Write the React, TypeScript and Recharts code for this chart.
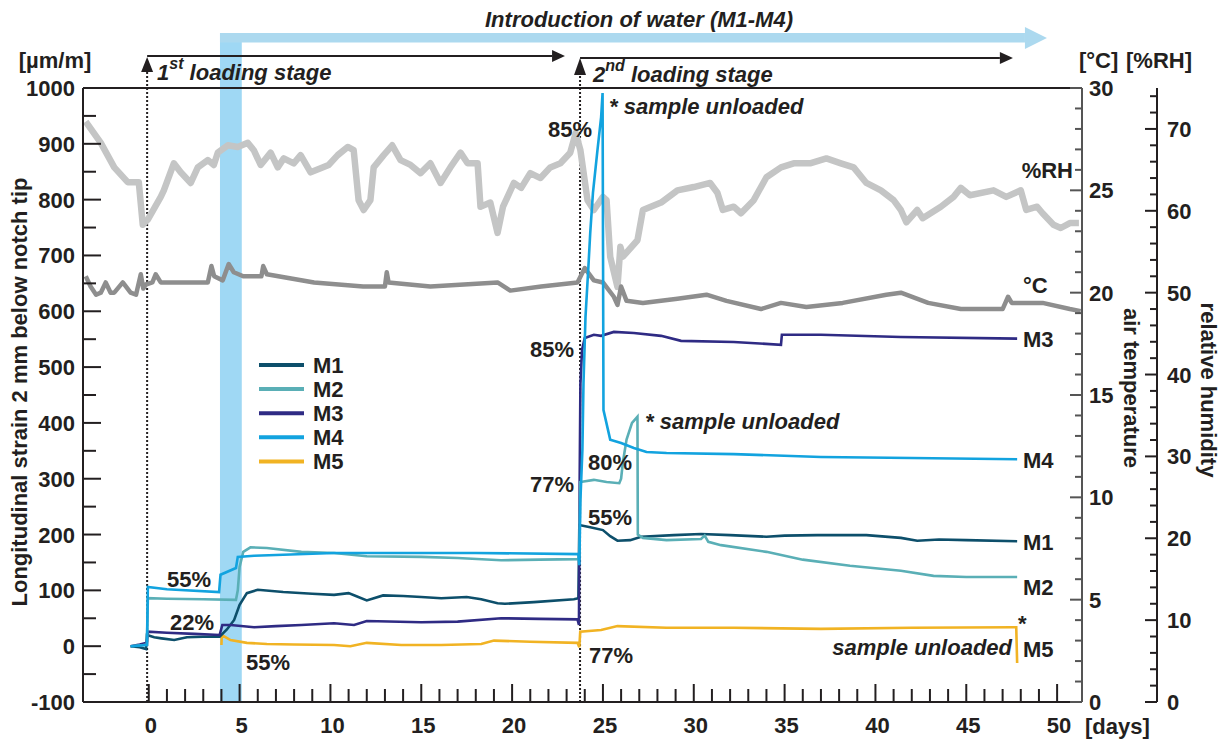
import React from 'react';
import { LineChart, Line, XAxis, YAxis, ReferenceArea, ReferenceLine, Legend } from 'recharts';

const FONT = '"Liberation Sans", Arial, Helvetica, sans-serif';
const INK = '#231f20';

type Pt = [number, number];

// ---- strain series [day, µm/m] ----
const m1: Pt[] = [
  [-1.0, 0], [-0.5, -2], [-0.15, -5], [-0.1, 20], [0.3, 16], [0.7, 14], [1.4, 11], [2.1, 16], [3.0, 17], [3.9, 17],
  [4.3, 30], [4.7, 47], [5.0, 74], [5.4, 95], [6.0, 101], [7.4, 97], [9.0, 94], [10.2, 92], [11.0, 95], [11.4, 90],
  [12.0, 82], [12.9, 91], [14.0, 90], [15.0, 88], [16.1, 86], [17.5, 88], [18.3, 84], [19.2, 77], [19.6, 76],
  [21.2, 79], [23.4, 84], [23.65, 86], [23.7, 217], [24.3, 213], [25.0, 208], [25.4, 197], [25.8, 189], [26.5, 190],
  [27.1, 196], [28.9, 199], [30.4, 201], [32.0, 199], [34.0, 196], [35.0, 198], [36.8, 199], [39.5, 199], [41.4, 194],
  [42.3, 189], [43.5, 191], [45.0, 190], [47.8, 188],
];
const m2: Pt[] = [
  [-1.0, 0], [-0.3, 2], [-0.1, 3], [-0.05, 86], [1.0, 85], [3.0, 84], [4.8, 83], [4.9, 100], [5.0, 142], [5.2, 169],
  [5.6, 177], [6.5, 176], [8.4, 169], [10.2, 167], [12.0, 161], [15.0, 160], [17.0, 158], [19.4, 154], [21.5, 155],
  [23.65, 156], [23.7, 160], [23.75, 294], [24.5, 298], [25.2, 294], [25.9, 292], [26.0, 300], [26.1, 330], [26.3, 370],
  [26.6, 400], [26.9, 411], [26.92, 200], [27.2, 194], [28.5, 190], [30.4, 192], [30.6, 198], [30.8, 187], [31.5, 181],
  [34.0, 169], [36.0, 155], [38.6, 144], [41.4, 135], [43.2, 126], [45.0, 124], [47.8, 124],
];
const m3: Pt[] = [
  [-1.0, 0], [-0.5, 3], [-0.1, 6], [-0.05, 26], [1.0, 24], [2.5, 22], [3.9, 20], [4.05, 38], [4.5, 38], [5.8, 34],
  [7.0, 36], [8.4, 38], [10.2, 41], [11.3, 38], [12.0, 45], [15.0, 43], [17.0, 44], [19.4, 50], [21.5, 49], [23.6, 48],
  [23.68, 38], [23.72, 300], [23.76, 470], [23.85, 531], [24.0, 552], [24.5, 558], [24.9, 556], [25.6, 563],
  [26.7, 561], [28.2, 556], [29.3, 547], [32.2, 545], [34.8, 540], [34.85, 558], [37.0, 558], [41.4, 554], [47.8, 551],
];
const m4: Pt[] = [
  [-1.0, 0], [-0.1, 2], [-0.05, 106], [1.0, 102], [3.87, 97], [3.95, 128], [4.8, 140], [4.9, 160], [5.8, 162],
  [10.2, 167], [13.9, 167], [18.0, 167], [23.65, 165], [23.7, 145], [23.76, 262], [23.87, 352], [23.93, 472],
  [24.04, 590], [24.2, 680], [24.3, 740], [24.45, 812], [24.7, 889], [24.9, 948], [24.98, 991], [25.03, 423],
  [25.4, 370], [26.0, 364], [26.7, 355], [27.4, 348], [28.5, 346], [32.2, 344], [37.0, 339], [42.0, 337], [47.8, 335],
];
const m5: Pt[] = [
  [4.0, 2], [4.02, 20], [4.5, 11], [5.4, 6], [6.5, 4], [8.0, 3], [10.2, 2], [11.1, 0], [12.0, 6], [13.9, 2], [16.1, 2],
  [18.3, 4], [19.0, 10], [21.0, 8], [23.6, 6], [23.7, -2], [23.75, 26], [24.9, 29], [25.8, 36], [28.5, 33], [32.2, 33],
  [37.0, 31], [42.0, 33], [47.6, 34], [47.75, 34], [47.8, -30],
];

// ---- air temperature [day, °C] ----
const temp: Pt[] = [
  [-3.47, 20.8], [-3.2, 20.3], [-2.9, 19.9], [-2.64, 20.0], [-2.37, 20.5], [-2.1, 20.0], [-1.9, 20.0], [-1.43, 20.5],
  [-1.0, 20.0], [-0.7, 19.9], [-0.44, 20.9], [-0.3, 20.2], [-0.16, 20.4], [0.2, 20.5], [0.38, 20.9], [0.66, 20.5],
  [3.25, 20.5], [3.45, 21.3], [3.6, 20.8], [4.07, 20.6], [4.4, 21.4], [4.68, 21.0], [5.2, 20.8], [6.2, 20.8],
  [6.3, 21.3], [6.5, 20.9], [9.1, 20.5], [11.8, 20.3], [13.0, 20.3], [13.1, 21.0], [13.2, 20.5], [15.5, 20.3],
  [19.2, 20.5], [19.9, 20.1], [21.6, 20.3], [23.6, 20.5], [24.0, 21.2], [24.5, 20.6], [25.0, 20.5], [25.6, 19.8],
  [25.8, 19.4], [26.0, 20.3], [26.3, 19.6], [27.2, 19.5], [29.1, 19.7], [30.7, 19.9], [31.8, 19.6], [33.7, 19.2],
  [34.8, 19.5], [36.2, 19.3], [38.2, 19.5], [40.6, 19.9], [41.4, 20.0], [42.9, 19.5], [44.7, 19.2], [47.0, 19.2],
  [47.3, 19.8], [47.5, 19.5], [49.2, 19.5], [50.7, 19.2], [51.3, 19.1],
];

// ---- relative humidity [day, %RH] ----
const rh: Pt[] = [
  [-3.47, 70.9], [-2.64, 68.3], [-1.9, 65.3], [-1.16, 63.5], [-0.55, 63.5], [-0.33, 58.3], [-0.06, 58.9], [0.66, 61.7],
  [0.83, 62.5], [1.38, 65.8], [1.76, 64.7], [2.31, 63.4], [2.7, 65.3], [3.25, 66.2], [3.58, 65.6], [3.8, 67.1],
  [4.35, 68.0], [4.9, 67.8], [5.45, 68.3], [5.78, 67.4], [6.16, 65.6], [6.71, 67.1], [7.1, 65.3], [7.43, 66.4],
  [7.98, 65.8], [8.36, 66.8], [8.91, 64.7], [9.46, 65.2], [9.9, 65.6], [10.4, 66.8], [10.95, 67.8], [11.28, 67.4],
  [11.55, 61.3], [11.83, 60.1], [12.2, 61.3], [12.38, 65.3], [12.93, 66.8], [13.4, 68.0], [13.86, 66.2], [14.41, 65.6],
  [14.96, 64.6], [15.5, 65.8], [16.06, 63.4], [16.6, 65.3], [17.16, 67.1], [17.55, 65.8], [18.1, 65.8], [18.26, 60.5],
  [18.8, 61.0], [19.2, 57.3], [19.5, 60.5], [20.1, 63.4], [20.5, 62.8], [21.0, 64.6], [21.56, 64.0], [22.1, 65.3],
  [22.66, 65.8], [23.2, 67.1], [23.5, 69.5], [23.76, 67.4], [24.15, 61.3], [24.5, 60.1], [25.0, 61.7], [25.2, 61.3],
  [25.4, 54.4], [25.8, 50.7], [25.96, 55.6], [26.1, 54.4], [26.9, 56.4], [27.2, 60.1], [28.2, 61.0], [29.1, 62.5],
  [30.0, 62.9], [30.9, 63.4], [31.3, 62.2], [31.6, 60.1], [32.2, 60.5], [32.6, 59.7], [33.3, 61.3], [34.0, 64.1],
  [34.8, 65.3], [35.5, 65.8], [36.4, 65.8], [37.3, 66.4], [38.1, 65.8], [38.8, 65.3], [39.5, 63.4], [40.3, 62.5],
  [41.0, 61.3], [41.4, 60.1], [41.7, 58.6], [42.3, 60.1], [42.6, 59.1], [43.6, 60.5], [44.3, 61.7], [44.7, 62.8],
  [45.2, 61.9], [46.5, 62.5], [47.2, 61.7], [48.0, 62.5], [48.3, 60.1], [48.9, 60.5], [49.2, 59.7], [49.8, 58.3],
  [50.2, 57.9], [50.7, 58.5], [51.2, 58.5],
];

// ---- ticks ----
const xMajorTicks = [0, 5, 10, 15, 20, 25, 30, 35, 40, 45, 50];
const strainMajorTicks = [-100, 0, 100, 200, 300, 400, 500, 600, 700, 800, 900, 1000];
const tempMajorTicks = [0, 5, 10, 15, 20, 25, 30];
const rhMajorTicks = [0, 10, 20, 30, 40, 50, 60, 70];

const range = (a: number, b: number, s: number) => {
  const out: number[] = [];
  for (let v = a; v <= b + 1e-9; v += s) out.push(Math.round(v * 100) / 100);
  return out;
};
const xTicks = range(0, 50, 1);
const strainTicks = range(-100, 1000, 50);
const tempTicks = range(0, 30, 1);
const rhTicks = range(0, 74, 2);

const series = [
  { name: 'M1', color: '#0d4f6b', pts: m1 },
  { name: 'M2', color: '#5aafb6', pts: m2 },
  { name: 'M3', color: '#2f2b84', pts: m3 },
  { name: 'M4', color: '#12a3df', pts: m4 },
  { name: 'M5', color: '#f1b323', pts: m5 },
];
const drawOrder = ['M5', 'M1', 'M3', 'M2', 'M4'];

const toData = (pts: Pt[]) => pts.map(([x, y]) => ({ x, y }));

const labelStyle = { fontFamily: FONT, fontWeight: 700, fontSize: 22, fill: INK } as const;

const XTick = (p: any) => {
  const v = p.payload.value;
  const major = xMajorTicks.includes(v);
  return (
    <g>
      <line x1={p.x} x2={p.x} y1={p.y} y2={p.y - (major ? 18 : 13)} stroke={INK} strokeWidth={2} />
      {major && (
        <text x={p.x + 2} y={p.y + 31} textAnchor="middle" {...labelStyle}>{v}</text>
      )}
    </g>
  );
};
const LeftTick = (p: any) => {
  const v = p.payload.value;
  const major = strainMajorTicks.includes(v);
  return (
    <g>
      <line x1={p.x} x2={p.x + (major ? 18 : 13)} y1={p.y} y2={p.y} stroke={INK} strokeWidth={2} />
      {major && (
        <text x={p.x - 8} y={p.y + 8} textAnchor="end" {...labelStyle}>{v}</text>
      )}
    </g>
  );
};
const TempTick = (p: any) => {
  const v = p.payload.value;
  const major = tempMajorTicks.includes(v);
  return (
    <g>
      <line x1={p.x} x2={p.x - (major ? 12 : 7)} y1={p.y} y2={p.y} stroke="#555" strokeWidth={2} />
      {major && (
        <text x={p.x + 7} y={p.y + 8} textAnchor="start" {...labelStyle}>{v}</text>
      )}
    </g>
  );
};
const RhTick = (p: any) => {
  const v = p.payload.value;
  const major = rhMajorTicks.includes(v);
  return (
    <g>
      <line x1={p.x} x2={p.x - (major ? 12 : 7)} y1={p.y} y2={p.y} stroke={INK} strokeWidth={2} />
      {major && (
        <text x={p.x + 10} y={p.y + 8} textAnchor="start" {...labelStyle}>{v}</text>
      )}
    </g>
  );
};

const triRight = (p: any) => (
  <polygon
    points={`${p.x},${p.y} ${p.x + p.width},${p.y + p.height / 2} ${p.x},${p.y + p.height}`}
    fill={p.fill}
  />
);
const triUp = (p: any) => (
  <polygon
    points={`${p.x},${p.y + p.height} ${p.x + p.width / 2},${p.y} ${p.x + p.width},${p.y + p.height}`}
    fill={p.fill}
  />
);

const LegendBox = () => (
  <svg width={120} height={125}>
    {series.map((s, i) => (
      <g key={s.name}>
        <line x1={4} x2={49} y1={15 + i * 24.1} y2={15 + i * 24.1} stroke={s.color} strokeWidth={4} />
        <text x={58} y={15 + i * 24.1 + 7.5} {...labelStyle}>{s.name}</text>
      </g>
    ))}
  </svg>
);

const it = { ...labelStyle, fontStyle: 'italic' } as const;

const Overlay = () => (
  <svg width={1226} height={740} style={{ position: 'absolute', left: 0, top: 0, pointerEvents: 'none' }}>
    {/* axis units */}
    <text x={55} y={68} textAnchor="middle" {...labelStyle}>[µm/m]</text>
    <text x={1079} y={68} {...labelStyle}>[°C]</text>
    <text x={1126} y={68} {...labelStyle}>[%RH]</text>
    <text x={1085} y={734} {...labelStyle}>[days]</text>
    {/* axis titles */}
    <text transform="translate(27,392) rotate(-90)" textAnchor="middle" {...labelStyle}>
      Longitudinal strain 2 mm below notch tip
    </text>
    <text transform="translate(1124,388) rotate(90)" textAnchor="middle" {...labelStyle}>air temperature</text>
    <text transform="translate(1201,390) rotate(90)" textAnchor="middle" {...labelStyle}>relative humidity</text>
    {/* top annotations */}
    <text x={485} y={27} {...it}>Introduction of water (M1-M4)</text>
    <text x={157} y={80} {...it}>
      1<tspan fontSize={16} dy={-11}>st</tspan>
      <tspan dy={11}> loading stage</tspan>
    </text>
    <text x={593} y={82} {...it}>
      2<tspan fontSize={16} dy={-11}>nd</tspan>
      <tspan dy={11}> loading stage</tspan>
    </text>
    {/* percentages */}
    <text x={167} y={587} {...labelStyle}>55%</text>
    <text x={170} y={630} {...labelStyle}>22%</text>
    <text x={246} y={670} {...labelStyle}>55%</text>
    <text x={548} y={137} {...labelStyle}>85%</text>
    <text x={530} y={357} {...labelStyle}>85%</text>
    <text x={530} y={492} {...labelStyle}>77%</text>
    <text x={588} y={470} {...labelStyle}>80%</text>
    <text x={588} y={525} {...labelStyle}>55%</text>
    <text x={589} y={663} {...labelStyle}>77%</text>
    {/* sample unloaded */}
    <text x={609} y={114} {...it}>* sample unloaded</text>
    <text x={645} y={429} {...it}>* sample unloaded</text>
    <text x={1012} y={655} textAnchor="end" {...it}>sample unloaded</text>
    <text x={1018} y={631} {...labelStyle}>*</text>
    {/* end labels */}
    <text x={1023} y={347} {...labelStyle}>M3</text>
    <text x={1023} y={468} {...labelStyle}>M4</text>
    <text x={1023} y={550} {...labelStyle}>M1</text>
    <text x={1023} y={595} {...labelStyle}>M2</text>
    <text x={1023} y={657} {...labelStyle}>M5</text>
    <text x={1073} y={178} textAnchor="end" {...labelStyle}>%RH</text>
    <text x={1023} y={293} {...labelStyle}>°C</text>
  </svg>
);

export default function App() {
  return (
    <div style={{ position: 'absolute', left: 0, top: 0, width: 1226, height: 740, background: '#fff' }}>
      <LineChart width={1226} height={740} margin={{ top: 88, right: 9, bottom: 8, left: 23 }}>
        <XAxis
          xAxisId={0}
          type="number"
          dataKey="x"
          domain={[-3.62, 51.37]}
          allowDataOverflow
          ticks={xTicks}
          interval={0}
          tickSize={0}
          tickMargin={0}
          tickLine={false}
          tick={XTick}
          axisLine={{ stroke: INK, strokeWidth: 2 }}
          height={30}
        />
        <YAxis
          yAxisId="a_strain"
          type="number"
          domain={[-100, 1000]}
          allowDataOverflow
          ticks={strainTicks}
          interval={0}
          tickSize={0}
          tickMargin={0}
          tickLine={false}
          tick={LeftTick}
          axisLine={{ stroke: INK, strokeWidth: 2 }}
          width={60}
        />
        <YAxis
          yAxisId="b_temp"
          orientation="right"
          type="number"
          domain={[0, 30]}
          allowDataOverflow
          ticks={tempTicks}
          interval={0}
          tickSize={0}
          tickMargin={0}
          tickLine={false}
          tick={TempTick}
          axisLine={{ stroke: '#555', strokeWidth: 2 }}
          width={75}
        />
        <YAxis
          yAxisId="c_rh"
          orientation="right"
          type="number"
          domain={[0, 75]}
          allowDataOverflow
          ticks={rhTicks}
          interval={0}
          tickSize={0}
          tickMargin={0}
          tickLine={false}
          tick={RhTick}
          axisLine={{ stroke: INK, strokeWidth: 2 }}
          width={60}
        />

        {/* water introduction band + arrow */}
        <ReferenceArea yAxisId="a_strain" x1={3.92} x2={5.12} y1={-100} y2={1098.5} ifOverflow="visible" fill="#9fd8f4" fillOpacity={1} stroke="none" />
        <ReferenceArea yAxisId="a_strain" x1={3.92} x2={48.23} y1={1081.5} y2={1098.5} ifOverflow="visible" fill="#acd9ef" fillOpacity={1} stroke="none" />
        <ReferenceArea yAxisId="a_strain" x1={48.23} x2={49.44} y1={1069.9} y2={1109.3} ifOverflow="visible" fill="#acd9ef" fillOpacity={1} stroke="none" shape={triRight} />

        {/* top frame */}
        <ReferenceLine yAxisId="a_strain" y={1000} stroke={INK} strokeWidth={2} />

        {/* loading stage markers */}
        <ReferenceLine yAxisId="a_strain" segment={[{ x: -0.09, y: -100 }, { x: -0.09, y: 1028.7 }]} ifOverflow="visible" stroke={INK} strokeWidth={2} strokeDasharray="2 2" />
        <ReferenceArea yAxisId="a_strain" x1={-0.42} x2={0.24} y1={1028.7} y2={1055.5} ifOverflow="visible" fill={INK} fillOpacity={1} stroke="none" shape={triUp} />
        <ReferenceLine yAxisId="a_strain" segment={[{ x: -0.09, y: 1057.3 }, { x: 22.2, y: 1057.3 }]} ifOverflow="visible" stroke={INK} strokeWidth={2} />
        <ReferenceArea yAxisId="a_strain" x1={22.2} x2={22.91} y1={1046.6} y2={1068.1} ifOverflow="visible" fill={INK} fillOpacity={1} stroke="none" shape={triRight} />

        <ReferenceLine yAxisId="a_strain" segment={[{ x: 23.74, y: -100 }, { x: 23.74, y: 1023.3 }]} ifOverflow="visible" stroke={INK} strokeWidth={2} strokeDasharray="2 2" />
        <ReferenceArea yAxisId="a_strain" x1={23.41} x2={24.07} y1={1023.3} y2={1053.7} ifOverflow="visible" fill={INK} fillOpacity={1} stroke="none" shape={triUp} />
        <ReferenceLine yAxisId="a_strain" segment={[{ x: 23.74, y: 1053.7 }, { x: 46.85, y: 1053.7 }]} ifOverflow="visible" stroke={INK} strokeWidth={2} />
        <ReferenceArea yAxisId="a_strain" x1={46.85} x2={47.57} y1={1043} y2={1064.5} ifOverflow="visible" fill={INK} fillOpacity={1} stroke="none" shape={triRight} />

        {/* environment */}
        <Line yAxisId="c_rh" data={toData(rh)} dataKey="y" type="linear" stroke="#c4c5c5" strokeWidth={6.5} dot={false} isAnimationActive={false} strokeLinejoin="round" legendType="none" />
        <Line yAxisId="b_temp" data={toData(temp)} dataKey="y" type="linear" stroke="#8e8e8e" strokeWidth={4.5} dot={false} isAnimationActive={false} strokeLinejoin="round" legendType="none" />

        {drawOrder.map((n) => {
          const s = series.find((q) => q.name === n)!;
          return (
            <Line
              key={n}
              name={n}
              yAxisId="a_strain"
              data={toData(s.pts)}
              dataKey="y"
              type="linear"
              stroke={s.color}
              strokeWidth={2.6}
              dot={false}
              isAnimationActive={false}
            />
          );
        })}

        <Legend
          layout="vertical"
          align="center"
          verticalAlign="middle"
          wrapperStyle={{ position: 'absolute', left: 255, top: 350, width: 120, height: 125 }}
          content={() => <LegendBox />}
        />
      </LineChart>
      <Overlay />
    </div>
  );
}
